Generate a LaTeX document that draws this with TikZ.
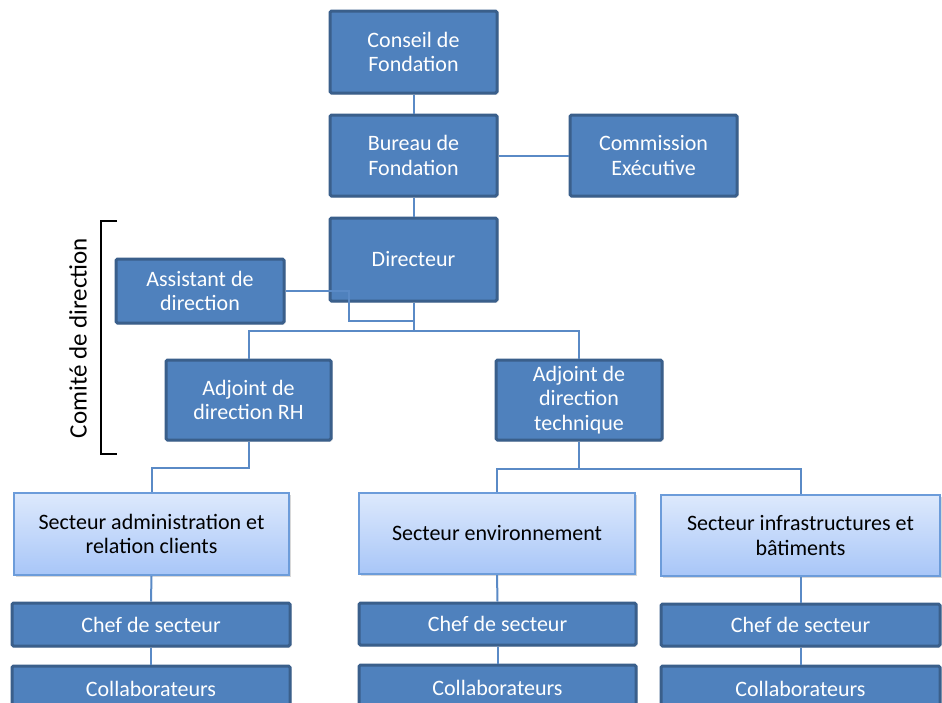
\documentclass[tikz,border=0pt]{standalone}
\usepackage{fontspec}
\setmainfont{Carlito}
\usetikzlibrary{shadows}
\definecolor{boxfill}{HTML}{4F81BD}
\definecolor{boxline}{HTML}{3A5F8B}
\definecolor{conn}{HTML}{5A8AC6}
\definecolor{lighttop}{HTML}{DDE9FC}
\definecolor{lightbot}{HTML}{A8C6F8}
\definecolor{lightline}{HTML}{6C9CDA}
\tikzset{
  darkbox/.style={draw=boxline, fill=boxfill, line width=3pt, rounded corners=1.5pt,
    text=white, align=center, inner sep=0pt,
    font=\fontsize{22}{24.5}\selectfont,
    drop shadow={opacity=0.25, shadow xshift=1.5pt, shadow yshift=-1.5pt}},
  lightbox/.style={draw=lightline, top color=lighttop, bottom color=lightbot, line width=2pt,
    text=black, align=center, inner sep=0pt,
    font=\fontsize{22}{24.5}\selectfont,
    drop shadow={opacity=0.3, shadow xshift=2pt, shadow yshift=-2pt}},
  link/.style={draw=conn, line width=2pt},
  bracket/.style={draw=black, line width=1.6pt},
}
\begin{document}
\begin{tikzpicture}[x=1pt,y=-1pt]
\useasboundingbox (0,0) rectangle (942,702);
\clip (0,0) rectangle (942,702);
\fill[white] (0,0) rectangle (942,702);

% connectors (below boxes)
\node[darkbox, minimum width=167, minimum height=82] (conseil) at (413.5,52) {Conseil de\\Fondation};
\node[darkbox, minimum width=167, minimum height=81] (bureau) at (413.5,155.5) {Bureau de\\Fondation};
\node[darkbox, minimum width=167, minimum height=81] (comm) at (653.5,155.5) {Commission\\Exécutive};
\node[darkbox, minimum width=167, minimum height=83] (dir) at (413.5,259.5) {Directeur};
\node[darkbox, minimum width=168, minimum height=64] (asst) at (200,291) {Assistant de\\direction};
\node[darkbox, minimum width=165, minimum height=80] (adjRH) at (248.5,400) {Adjoint de\\direction RH};
\node[darkbox, minimum width=166, minimum height=80] (adjT) at (579,400) {Adjoint de\\direction\\technique};

\node[lightbox, minimum width=275, minimum height=82] (secA) at (151.5,534) {Secteur administration et\\relation clients};
\node[lightbox, minimum width=276, minimum height=81] (secE) at (497,533.5) {Secteur environnement};
\node[lightbox, minimum width=279, minimum height=81] (secI) at (800.5,535.5) {Secteur infrastructures et\\bâtiments};

\node[darkbox, minimum width=278, minimum height=43] (chefA) at (151,624.5) {Chef de secteur};
\node[darkbox, minimum width=277, minimum height=42] (chefE) at (497.5,624) {Chef de secteur};
\node[darkbox, minimum width=279, minimum height=42] (chefI) at (800.5,625) {Chef de secteur};

\node[darkbox, minimum width=278, minimum height=46] (collA) at (151,689) {Collaborateurs};
\node[darkbox, minimum width=277, minimum height=46] (collE) at (497.5,688) {Collaborateurs};
\node[darkbox, minimum width=279, minimum height=46] (collI) at (800.5,689) {Collaborateurs};

% connectors
\draw[link] (conseil.south) -- (bureau.north);
\draw[link] (bureau.east) -- (comm.west);
\draw[link] (bureau.south) -- (dir.north);
\draw[link] (dir.south) -- ++(0,28) coordinate (dj);
\draw[link] (adjRH.north) |- (dj) -| (adjT.north);
\draw[link] (asst.east) -- ++(63,0) -- ++(0,30) -| (dj);
\draw[link] (adjRH.south) -- ++(0,26) -| (secA.north);
\draw[link] (adjT.south) -- ++(0,27) coordinate (tj);
\draw[link] (secE.north) |- (tj) -| (secI.north);
\draw[link] (secA.south) -- (chefA.north);
\draw[link] (secE.south) -- (chefE.north);
\draw[link] (secI.south) -- (chefI.north);
\draw[link] (chefA.south) -- (collA.north);
\draw[link] (chefE.south) -- (collE.north);
\draw[link] (chefI.south) -- (collI.north);

% bracket and label
\coordinate (bt) at (117,221);
\coordinate (bb) at (117,454);
\draw[bracket] (bt) -- ++(-16,0) |- (bb);
\node[rotate=90, font=\fontsize{25}{28}\selectfont, inner sep=0pt] (comite) at (78,338) {Comité de direction};
\end{tikzpicture}
\end{document}
